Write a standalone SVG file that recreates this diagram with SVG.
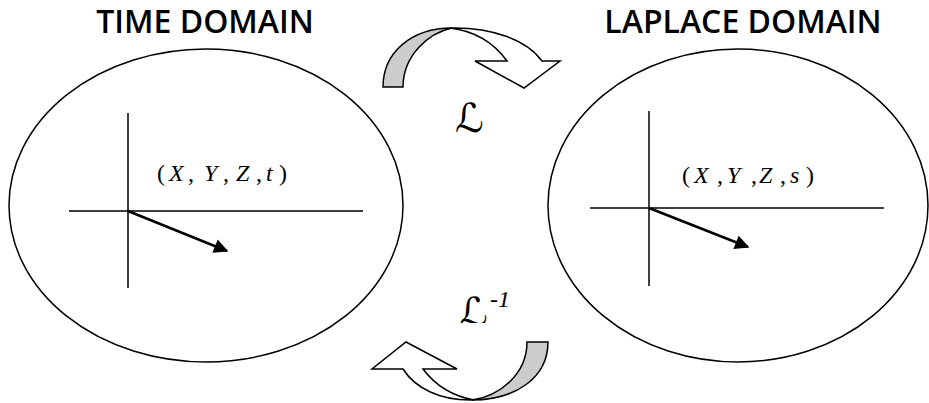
<svg xmlns="http://www.w3.org/2000/svg" width="929" height="403" viewBox="0 0 929 403">
<style>
.title{font-family:"Open Sans","Liberation Sans",sans-serif;font-weight:600;font-size:32px;fill:#000;text-anchor:middle}
.dom{fill:#fff;stroke:#000;stroke-width:1.5}
.axis{stroke:#000;stroke-width:1.5;fill:none}
.vec{stroke:#000;stroke-width:2.6;fill:none;marker-end:url(#ah)}
.math{font-family:"Liberation Serif","Times New Roman",serif;font-size:24px;fill:#000}
.it{font-style:italic}
.script{font-family:"DejaVu Serif","DejaVu Sans",serif;font-style:italic;fill:#000}
.band{stroke:#000;stroke-width:1.5;stroke-linejoin:miter}
</style>
<defs>
<marker id="ah" viewBox="0 0 10 10" refX="9" refY="5" markerWidth="7" markerHeight="5.5" orient="auto" markerUnits="strokeWidth">
<path d="M0,0 L10,5 L0,10 Z" fill="#000"/>
</marker>
<clipPath id="clipInv"><rect x="440" y="280" width="80" height="43"/></clipPath>
</defs>
<rect width="929" height="403" fill="#fff"/>

<g id="time-domain">
<text class="title" x="205" y="33">TIME DOMAIN</text>
<ellipse class="dom" cx="206" cy="205.5" rx="197" ry="156.5"/>
<line class="axis" x1="128" y1="113" x2="128" y2="288"/>
<line class="axis" x1="69" y1="211" x2="363" y2="211"/>
<line class="vec" x1="128" y1="211" x2="227" y2="251"/>
<text class="math" y="181"><tspan x="157">(</tspan><tspan class="it" x="169">X</tspan><tspan x="188">,</tspan><tspan class="it" x="204">Y</tspan><tspan x="223">,</tspan><tspan class="it" x="236">Z</tspan><tspan x="256">,</tspan><tspan class="it" x="266">t</tspan><tspan x="279">)</tspan></text>
</g>

<g id="laplace-domain">
<text class="title" x="743" y="33">LAPLACE DOMAIN</text>
<ellipse class="dom" cx="738" cy="205.5" rx="190" ry="156.5"/>
<line class="axis" x1="649" y1="111" x2="649" y2="286"/>
<line class="axis" x1="590" y1="208" x2="884" y2="208"/>
<line class="vec" x1="649" y1="208" x2="748" y2="247"/>
<text class="math" y="183"><tspan x="682">(</tspan><tspan class="it" x="694">X</tspan><tspan x="717">,</tspan><tspan class="it" x="727">Y</tspan><tspan x="751">,</tspan><tspan class="it" x="759">Z</tspan><tspan x="780">,</tspan><tspan class="it" x="790">s</tspan><tspan x="806">)</tspan></text>
</g>

<g id="connectors">
<g id="forward-transform">
<path class="band" fill="#cccccc" d="M383,87 C383,52 412,28 452,28 C428,33 403,56 403,87 Z"/>
<path class="band" fill="#fff" d="M450,28 C492,27 527,40 542,61 L560,61 L524,88 L475,61 L507,61 C494,43 475,31 450,28 Z"/>
<text class="script" x="455" y="132" font-size="40">ℒ</text>
</g>
<g id="inverse-transform">
<path class="band" fill="#cccccc" d="M548,342 C548,378 515,400 472,400 C500,396 527,374 527,342 Z"/>
<path class="band" fill="#fff" d="M474,400 C440,401 415,388 403,369 L372,369 L406,342 L457,369 L423,369 C435,385 452,396 474,400 Z"/>
<text class="script" x="459" y="326" font-size="40" clip-path="url(#clipInv)">ℒ</text>
<text class="math it" x="490" y="307" font-size="17">-1</text>
</g>
</g>
</svg>
